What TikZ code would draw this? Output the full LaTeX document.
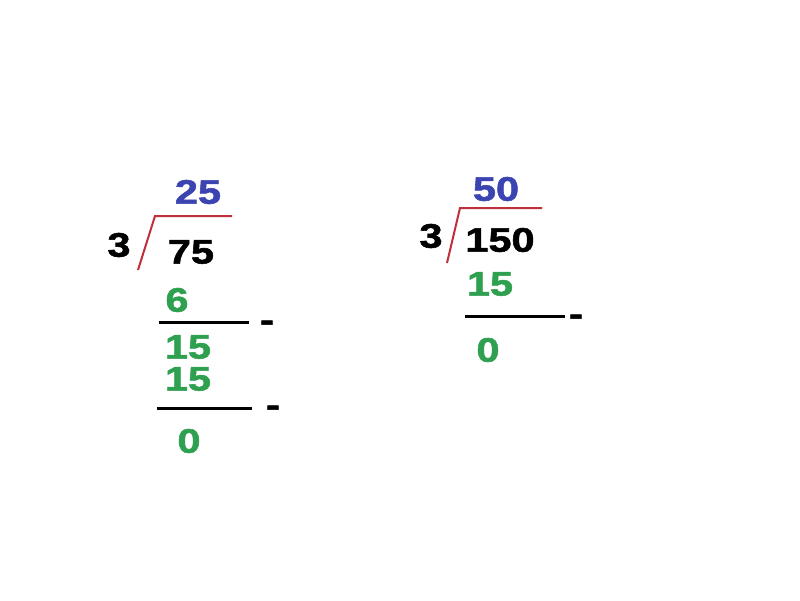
\documentclass[tikz,border=0pt]{standalone}
\usepackage{fontspec}
\usepackage{xcolor}
\usepackage{tikz}
\newfontfamily\digitfont[FakeStretch=1.22,FakeBold=1.6]{Liberation Sans}
\definecolor{quotblue}{RGB}{60,68,178}
\definecolor{stepgreen}{RGB}{46,160,80}
\definecolor{barred}{RGB}{192,48,58}
\tikzset{every picture/.style={x=1pt,y=-1pt},
  digit/.style={inner sep=0pt,font=\digitfont\bfseries\fontsize{34}{34}\selectfont},
  quot/.style={digit,text=quotblue},
  part/.style={digit,text=stepgreen},
  bar/.style={barred,line width=2pt},
  rule/.style={black,line width=3pt}}

\begin{document}
\begin{tikzpicture}
    \useasboundingbox[fill=white] (0,0) rectangle (800,600);

    % left: 75 : 3
    \node[quot](q1) at (198,192){25};
    \node[digit](d1) at (119,245){3};
    \node[digit](n1) at (191,252){75};
    \node[part](s1) at (177,300){6};
    \node[part](r1) at (188,347){15};
    \node[part](s2) at (188,379){15};
    \node[part](r2) at (189,441){0};
    \node[digit](m1) at (267,326){-};
    \node[digit](m2) at (273,411){-};
    \coordinate (a1) at (138,270);
    \coordinate (b1) at (155,216);
    \coordinate (c1) at (232,216);
    \coordinate (l1) at (159,322);
    \coordinate (e1) at (249,322);
    \coordinate (l2) at (157,408);
    \coordinate (e2) at (252,408);

    \draw[bar](a1)--(b1)--(c1);
    \draw[rule](l1)--(e1);
    \draw[rule](l2)--(e2);

    % right: 150 : 3
    \node[quot](q2) at (496,189){50};
    \node[digit](d2) at (431,236){3};
    \node[digit](n2) at (500,240){150};
    \node[part](s3) at (490,284){15};
    \node[part](r3) at (488,350){0};
    \node[digit](m3) at (576,320){-};
    \coordinate (a2) at (447,263);
    \coordinate (b2) at (460,208);
    \coordinate (c2) at (542,208);
    \coordinate (l3) at (465,316);
    \coordinate (e3) at (565,316);

    \draw[bar](a2)--(b2)--(c2);
    \draw[rule](l3)--(e3);
  \end{tikzpicture}
\end{document}
